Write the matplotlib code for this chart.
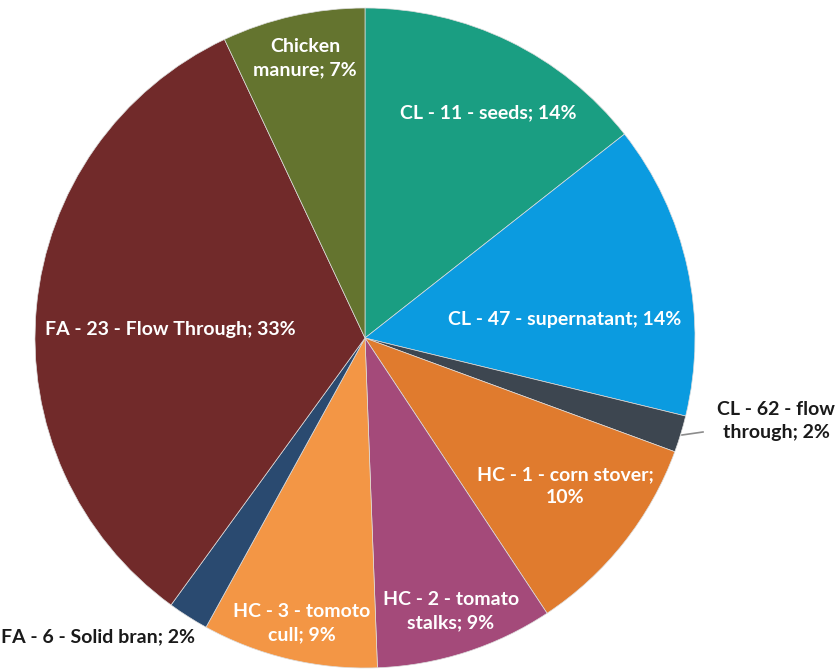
import matplotlib
matplotlib.use("Agg")
import matplotlib.pyplot as plt

# Feedstock shares (percent), clockwise from 12 o'clock
names = [
    "CL - 11 - seeds",
    "CL - 47 - supernatant",
    "CL - 62 - flow\nthrough",
    "HC - 1 - corn stover;\n",
    "HC - 2 - tomato\nstalks",
    "HC - 3 - tomoto\ncull",
    "FA - 6 - Solid bran",
    "FA - 23 - Flow Through",
    "Chicken\nmanure",
]
shares = [14.4, 14.4, 1.8, 10.1, 8.7, 8.6, 2.0, 33.0, 7.0]
colors = ["#1a9e82", "#0b9be0", "#3d4650", "#e07b2e", "#a44a7a",
          "#f39645", "#2a4a70", "#712a2a", "#64742f"]

W, H = 836, 671
fig = plt.figure(figsize=(W / 100, H / 100), dpi=100)
ax = fig.add_axes([0, 0, 1, 1])

cx, cy, R = 365, H - 338, 330
wedges, _ = ax.pie(shares, colors=colors, startangle=90, counterclock=False,
                   center=(cx, cy), radius=R, frame=True,
                   wedgeprops=dict(linewidth=0.5, edgecolor="#dddddd"))
ax.set_xlim(0, W)
ax.set_ylim(0, H)
ax.set_aspect("equal")
ax.axis("off")

font = ["Lato", "DejaVu Sans"]


def label(i):
    pct = f"{round(shares[i]):d}%"
    n = names[i]
    if n.endswith("\n"):
        return n + pct
    return n + "; " + pct


# label anchors in pixel coordinates (x, y from top) and alignment
label_xy = [(488, 113), (565, 320), (776, 421), (565, 486), (451, 611),
            (302, 623), (1, 637), (170, 330), (305, 58)]
label_ha = ["center"] * 6 + ["left"] + ["center"] * 2
inside = [True, True, False, True, True, True, False, True, True]

for i in range(len(shares)):
    x, y = label_xy[i]
    ax.text(x, H - y, label(i), ha=label_ha[i], va="center", fontsize=14,
            fontweight="bold", family=font, linespacing=1.45,
            color="white" if inside[i] else "#1a1a1a")

# leader line to the small outside slice
ax.plot([682, 703], [H - 435, H - 432], color="#8c8c8c", linewidth=1.2)

fig.savefig("out.png", dpi=100, facecolor="white")
